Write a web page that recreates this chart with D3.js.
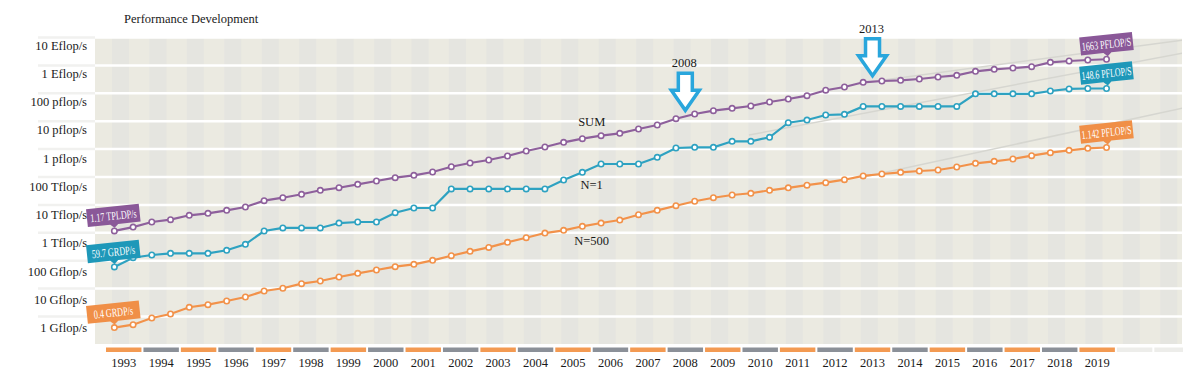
<!DOCTYPE html>
<html>
<head>
<meta charset="utf-8">
<script src="https://cdn.jsdelivr.net/npm/d3@7"></script>
<style>
  body { margin: 0; background: #fff; }
  text { font-family: "Liberation Serif", "Times New Roman", serif; }
</style>
</head>
<body>
<div id="chart"></div>
<script>
// TOP500 lists, June and November
var lists = [
  "1993-06","1993-11","1994-06","1994-11","1995-06","1995-11","1996-06","1996-11",
  "1997-06","1997-11","1998-06","1998-11","1999-06","1999-11","2000-06","2000-11",
  "2001-06","2001-11","2002-06","2002-11","2003-06","2003-11","2004-06","2004-11",
  "2005-06","2005-11","2006-06","2006-11","2007-06","2007-11","2008-06","2008-11",
  "2009-06","2009-11","2010-06","2010-11","2011-06","2011-11","2012-06","2012-11",
  "2013-06","2013-11","2014-06","2014-11","2015-06","2015-11","2016-06","2016-11",
  "2017-06","2017-11","2018-06","2018-11","2019-06","2019-11"
];

// values in Tflop/s
var sumValues = [
  1.17, 1.6, 2.44, 2.95, 4.24, 5.0, 6.4, 8.4,
  14.2, 18.1, 24.0, 33.4, 41.3, 54.7, 71.9, 94.4,
  115, 151, 234, 318, 407, 566, 855, 1189,
  1753, 2360, 3020, 3680, 5250, 7310, 12300, 18100,
  23800, 29000, 35100, 48800, 62500, 82000, 129000, 168000,
  248000, 276000, 292000, 326000, 384000, 442000, 615000, 725000,
  807000, 898000, 1290000, 1440000, 1560000, 1663000
];
var n1Values = [
  0.0597, 0.128, 0.160, 0.184, 0.184, 0.184, 0.236, 0.387,
  1.16, 1.49, 1.49, 1.49, 2.24, 2.44, 2.44, 5.25,
  7.74, 7.74, 37.5, 37.5, 37.5, 37.5, 37.5, 37.5,
  78, 147, 292, 292, 292, 508, 1095, 1160,
  1160, 1906, 1906, 2650, 8830, 11000, 16700, 17590,
  33900, 33900, 33900, 33900, 33900, 33900, 96000, 96000,
  96000, 96000, 121000, 143500, 148600, 148600
];
var n500Values = [
  0.0004, 0.000508, 0.000883, 0.00123, 0.00214, 0.00265, 0.0036, 0.0050,
  0.0082, 0.0103, 0.0150, 0.0187, 0.0261, 0.0353, 0.0464, 0.0610,
  0.0743, 0.103, 0.151, 0.217, 0.30, 0.456, 0.667, 0.98,
  1.23, 1.71, 2.24, 2.87, 4.45, 6.40, 9.36, 13.5,
  18.1, 22.6, 26.1, 33.4, 41, 51, 62.5, 80,
  109, 128, 147, 164, 178, 228, 310, 365,
  442, 580, 743, 905, 1069, 1142
];

// faint extrapolation lines [year, Tflop/s]
var sumTrend = [[2013.4, 254000], [2021.8, 8100000]];
var n1Trend = [[2010.2, 3200], [2021.8, 2800000]];
var n500Trend = [[2013.2, 96], [2021.8, 29700]];

var yTicks = [1e7, 1e6, 1e5, 1e4, 1e3, 100, 10, 1, 0.1, 0.01, 0.001];
var yTickLabels = ["10 Eflop/s", "1 Eflop/s", "100 pflop/s", "10 pflop/s", "1 pflop/s",
  "100 Tflop/s", "10 Tflop/s", "1 Tflop/s", "100 Gflop/s", "10 Gflop/s", "1 Gflop/s"];

var yearLabels = ["1993","1994","1995","1996","1997","1998","1999","2000","2001",
  "2002","2003","2004","2005","2006","2007","2008","2009","2010","2011","2012",
  "2013","2014","2015","2016","2017","2018","2019"];
var extraYears = ["2020", "2021"];

var startLabels = ["1.17 TPLDP/s", "59.7 GRDP/s", "0.4 GRDP/s"];
var endLabels = ["1663 PFLOP/S", "148.6 PFLOP/S", "1.142 PFLOP/S"];
var arrowYears = [2008, 2013];

// ---------------------------------------------------------------
var W = 1197, H = 374;
var plot = {left: 95, right: 1182, top: 37, bottom: 344};

var svg = d3.select("#chart").append("svg")
    .attr("width", W)
    .attr("height", H);

function listTime(s) {
  var p = s.split("-");
  return +p[0] + (p[1] === "06" ? 0.25 : 0.75);
}
var times = lists.map(listTime);

var xScale = d3.scaleLinear().domain([1993, 2020]).range([105, 105 + 27 * 37.44]);
var yScale = d3.scaleLog().domain([0.001, 1e7]).range([316.5, 37.5]);
// tick labels sit a bit lower than the grid and drift slightly
var yLabelScale = d3.scaleLog().domain([0.001, 1e7]).range([327.5, 45]);
var yearBand = d3.scaleBand().domain(yearLabels.concat(extraYears))
    .range([105, 105 + 29 * 37.44]);

svg.append("defs").append("clipPath").attr("id", "plotclip")
  .append("rect")
    .attr("x", plot.left).attr("y", plot.top)
    .attr("width", plot.right - plot.left).attr("height", plot.bottom - plot.top);

// background
svg.append("rect")
    .attr("x", plot.left).attr("y", plot.top)
    .attr("width", plot.right - plot.left).attr("height", plot.bottom - plot.top)
    .attr("fill", "#ebeae1");

svg.append("g").attr("clip-path", "url(#plotclip)")
  .selectAll(".stripe")
  .data(yearBand.domain())
  .enter().append("rect")
    .attr("class", "stripe")
    .attr("x", function(d) { return yearBand(d) + 7; })
    .attr("y", plot.top)
    .attr("width", 17)
    .attr("height", plot.bottom - plot.top)
    .attr("fill", "#e5e5e0");

// grid lines
svg.selectAll(".gridl")
  .data(yTicks)
  .enter().append("line")
    .attr("class", "gridl")
    .attr("x1", 38).attr("x2", plot.left)
    .attr("y1", function(d) { return yScale(d); })
    .attr("y2", function(d) { return yScale(d); })
    .style("stroke", "#f1f1ef")
    .style("stroke-width", 2.5);
svg.selectAll(".grid")
  .data(yTicks)
  .enter().append("line")
    .attr("class", "grid")
    .attr("x1", plot.left).attr("x2", plot.right)
    .attr("y1", function(d) { return yScale(d); })
    .attr("y2", function(d) { return yScale(d); })
    .style("stroke", "#ffffff")
    .style("stroke-width", 2.5);

// y labels
var yAxis = d3.axisLeft(yLabelScale)
    .tickValues(yTicks)
    .tickSize(0)
    .tickPadding(8)
    .tickFormat(function(d, i) { return yTickLabels[i]; });
var yg = svg.append("g")
    .attr("transform", "translate(" + plot.left + ",0)")
    .call(yAxis);
yg.select(".domain").remove();
yg.selectAll("text")
    .style("font-family", "'Liberation Serif', serif")
    .style("font-size", "12.5px")
    .style("fill", "#1a1a1a");

// trend lines
var trendLine = d3.line()
    .x(function(d) { return xScale(d[0]); })
    .y(function(d) { return yScale(d[1]); });
svg.append("g").attr("clip-path", "url(#plotclip)")
  .selectAll(".trend")
  .data([sumTrend, n1Trend, n500Trend])
  .enter().append("path")
    .attr("class", "trend")
    .attr("d", trendLine)
    .style("fill", "none")
    .style("stroke", "#d6d6d0")
    .style("stroke-width", 1.5);

// year bars + labels
svg.selectAll(".ybar")
  .data(yearBand.domain())
  .enter().append("rect")
    .attr("class", "ybar")
    .attr("x", function(d) { return yearBand(d) + 1; })
    .attr("y", 347.5)
    .attr("width", function(d) { return Math.min(yearBand.bandwidth() - 2, plot.right + 1 - yearBand(d) - 1); })
    .attr("height", 4.5)
    .attr("fill", function(d, i) {
      if (extraYears.indexOf(d) >= 0) return "#ededea";
      return i % 2 === 0 ? "#f39a52" : "#8b9098";
    });

svg.selectAll(".ylab")
  .data(yearLabels)
  .enter().append("text")
    .attr("class", "ylab")
    .attr("x", function(d) { return yearBand(d) + yearBand.bandwidth() / 2; })
    .attr("y", 367)
    .attr("text-anchor", "middle")
    .style("font-size", "12.5px")
    .style("fill", "#1a1a1a")
    .text(function(d) { return d; });

// series
var series = [
  {name: "SUM", values: sumValues, color: "#8e609c", box: "#8a5898"},
  {name: "N=1", values: n1Values, color: "#2ea2c1", box: "#1e98b9"},
  {name: "N=500", values: n500Values, color: "#f2924a", box: "#f08f47"}
];

var line = d3.line()
    .x(function(d, i) { return xScale(times[i]); })
    .y(function(d) { return yScale(d); });

series.forEach(function(s) {
  svg.append("path")
      .datum(s.values)
      .attr("d", line)
      .style("fill", "none")
      .style("stroke", s.color)
      .style("stroke-width", 2.2);
  svg.append("g").selectAll("circle")
    .data(s.values)
    .enter().append("circle")
      .attr("cx", function(d, i) { return xScale(times[i]); })
      .attr("cy", function(d) { return yScale(d); })
      .attr("r", 2.7)
      .style("fill", "#fff")
      .style("stroke", s.color)
      .style("stroke-width", 1.6);
});

// callout boxes
function callout(px, py, txt, color) {
  var g = svg.append("g")
      .attr("transform", "translate(" + px + "," + (py - 15) + ") rotate(-6)");
  g.append("path")
      .attr("d", "M-26.5,-9.5 H26.5 V8.5 H4 L0,12 L-4,8.5 H-26.5 Z")
      .attr("fill", color);
  var t = g.append("text")
      .attr("text-anchor", "middle")
      .attr("y", 4)
      .style("font-size", "12px")
      .style("fill", "#fff")
      .text(txt);
  var len = t.node().getComputedTextLength();
  t.attr("textLength", Math.min(len * 0.68, 50)).attr("lengthAdjust", "spacingAndGlyphs");
}
series.forEach(function(s, k) {
  callout(xScale(times[0]) - 1, yScale(s.values[0]), startLabels[k], s.box);
  var n = s.values.length - 1;
  callout(xScale(times[n]), yScale(s.values[n]), endLabels[k], s.box);
});

// series names
var nameIdx = 26;
var nameOffsets = [-14, 20, 17];
series.forEach(function(s, k) {
  svg.append("text")
      .attr("x", xScale(2006))
      .attr("y", yScale(s.values[nameIdx]) + nameOffsets[k] + 4.5)
      .attr("text-anchor", "middle")
      .style("font-size", "12.5px")
      .style("fill", "#1a1a1a")
      .text(s.name);
});

// arrows
arrowYears.forEach(function(yr) {
  var i = times.indexOf(yr + 0.25);
  var v = Math.sqrt(sumValues[i] * sumValues[i + 1]);
  var tx = xScale(yr + 0.5), ty = yScale(v) - 6;
  svg.append("path")
      .attr("transform", "translate(" + tx + "," + ty + ")")
      .attr("d", "M-7,-37 L7,-37 L7,-20 L14,-20 L0,0 L-14,-20 L-7,-20 Z")
      .style("fill", "#fff")
      .style("stroke", "#29a6dc")
      .style("stroke-width", 3.5)
      .style("stroke-linejoin", "miter");
  svg.append("text")
      .attr("x", tx - 1)
      .attr("y", ty - 43)
      .attr("text-anchor", "middle")
      .style("font-size", "12.5px")
      .style("fill", "#1a1a1a")
      .text(yr);
});

// title
svg.append("text")
    .attr("x", 124)
    .attr("y", 22.5)
    .style("font-size", "12.5px")
    .style("fill", "#1a1a1a")
    .text("Performance Development");
</script>
</body>
</html>
